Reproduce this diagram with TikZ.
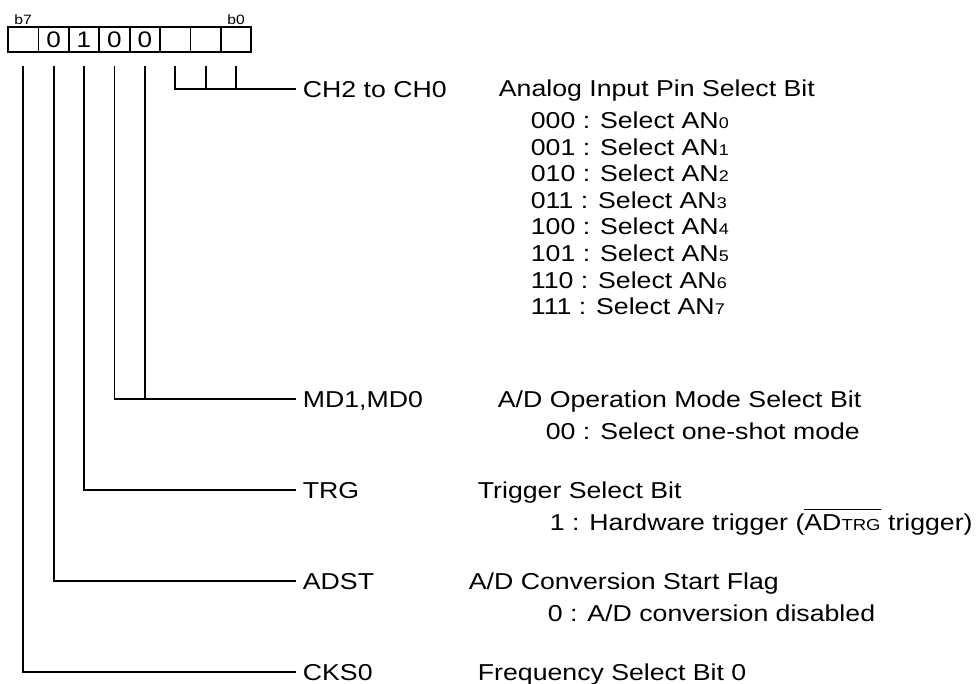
\documentclass[tikz,border=0pt]{standalone}
\usepackage{fontspec}
\setmainfont[FakeStretch=1.16]{Liberation Sans}
\newcommand\ansub[1]{{\fontsize{15.5}{15.5}\selectfont #1}}
\newcommand\smtrg[1]{{\fontsize{16}{16}\selectfont #1}}
\newcommand\ovlbar[1]{\leavevmode\vbox{\hrule height 1.2pt\kern 4pt\hbox{#1}}}
\begin{document}
\begin{tikzpicture}[x=1pt,y=-1pt,line width=1.8pt,
  cell/.style={draw,minimum width=30.4pt,minimum height=25pt,inner sep=0pt,outer sep=0pt,
    anchor=north west,font=\fontsize{22.5}{22.5}\selectfont},
  field/.style={anchor=west,inner xsep=6pt,inner ysep=0pt,text height=16.5pt,text depth=0pt,
    font=\fontsize{23}{23}\selectfont},
  desc/.style={anchor=base west,inner sep=0pt,font=\fontsize{23}{23}\selectfont},
  bitlbl/.style={anchor=base,inner sep=0pt,font=\fontsize{13.5}{13.5}\selectfont},
  conn/.style={line width=1.8pt}]
\useasboundingbox (0,0) rectangle (976,684);
% register cells
\node[cell] (c7) at (8,27) {};
\node[cell] (c6) at (38.4,27) {0};
\node[cell] (c5) at (68.8,27) {1};
\node[cell] (c4) at (99.2,27) {0};
\node[cell] (c3) at (129.6,27) {0};
\node[cell] (c2) at (160,27) {};
\node[cell] (c1) at (190.4,27) {};
\node[cell] (c0) at (220.8,27) {};
\node[bitlbl] (lb7) at (c7.north |- 0,25) {b7};
\node[bitlbl] (lb0) at (c0.north |- 0,25) {b0};
% field labels
\node[field] (fch) at (296,89) {CH2 to CH0};
\node[field] (fmd) at (296,399) {MD1,MD0};
\node[field] (ftrg) at (296,490) {TRG};
\node[field] (fadst) at (296,581) {ADST};
\node[field] (fcks) at (296,672) {CKS0};
% connectors
\draw[conn] ([yshift=-14pt]c2.south) |- (fch.west);
\draw[conn] ([yshift=-14pt]c1.south) -- (c1.south |- fch.west);
\draw[conn] ([yshift=-14pt]c0.south) -- (c0.south |- fch.west);
\draw[conn] ([yshift=-14pt]c4.south) |- (fmd.west);
\draw[conn] ([yshift=-14pt]c3.south) -- (c3.south |- fmd.west);
\draw[conn] ([yshift=-14pt]c5.south) |- (ftrg.west);
\draw[conn] ([yshift=-14pt]c6.south) |- (fadst.west);
\draw[conn] ([yshift=-14pt]c7.south) |- (fcks.west);
% descriptions
\node[desc] (dch) at (498,97) {Analog Input Pin Select Bit};
\foreach \k/\b in {0/000,1/001,2/010,3/011,4/100,5/101,6/110,7/111}
  \node[desc] (an\k) at (530,{129+26.5*\k}) {\b\ : Select AN\ansub{\k}};
\node[desc] (dmd) at (497,407) {A/D Operation Mode Select Bit};
\node[desc] (dmd0) at (545,439) {00 : Select one-shot mode};
\node[desc] (dtrg) at (477,498) {Trigger Select Bit};
\node[desc] (dtrg1) at (549,530) {1 : Hardware trigger (\ovlbar{AD\smtrg{TRG}} trigger)};
\node[desc] (dadst) at (468,589) {A/D Conversion Start Flag};
\node[desc] (dadst0) at (547,621) {0 : A/D conversion disabled};
\node[desc] (dcks) at (477,680) {Frequency Select Bit 0};
\end{tikzpicture}
\end{document}
